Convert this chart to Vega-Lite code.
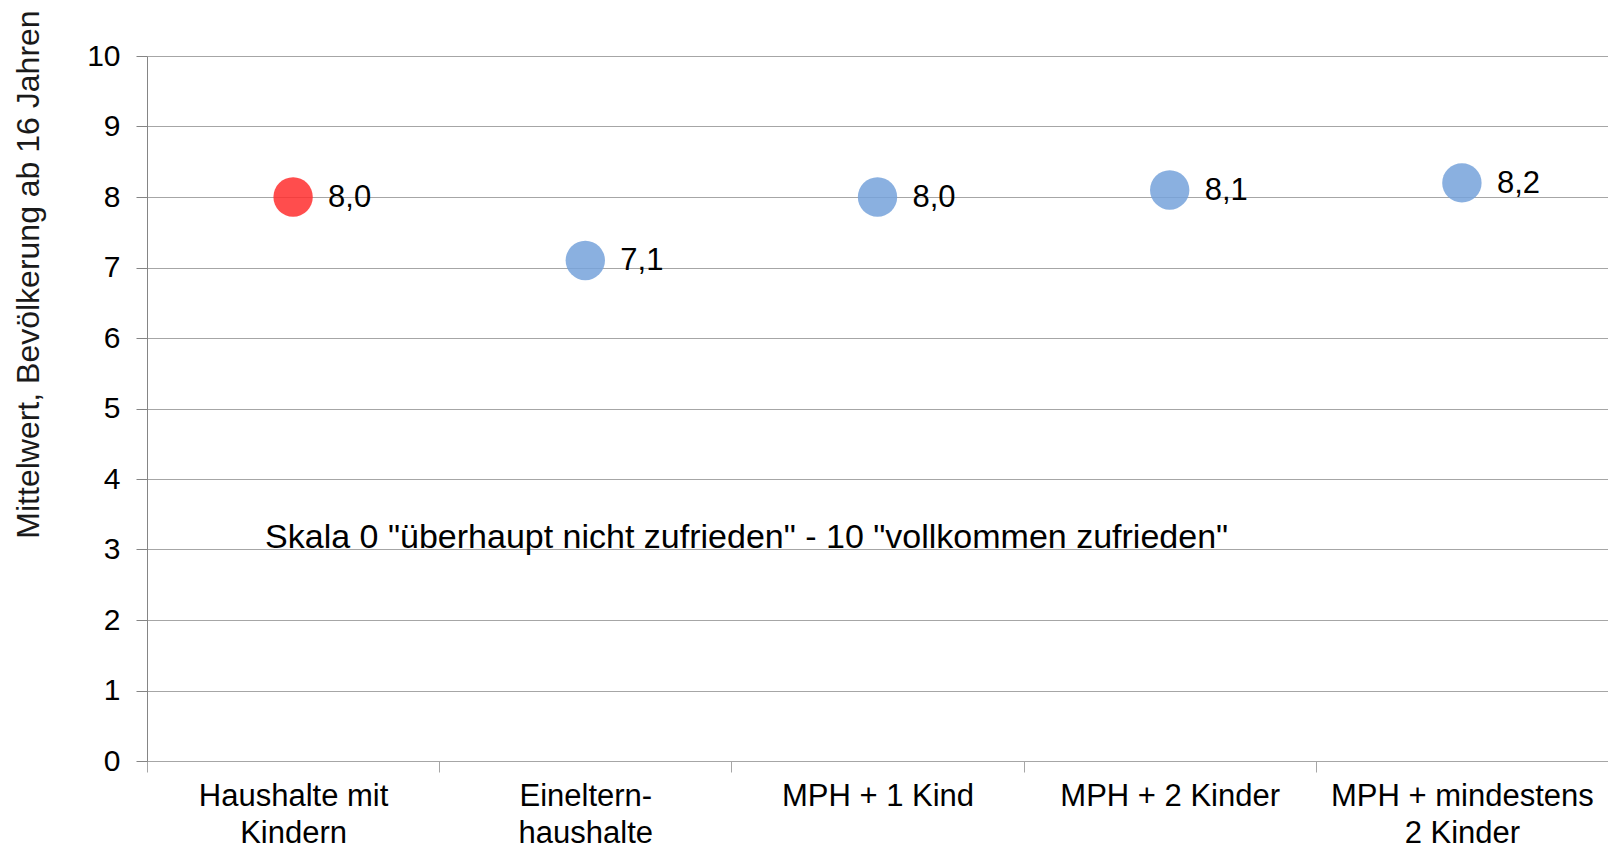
{
  "$schema": "https://vega.github.io/schema/vega-lite/v6.json",
  "width": 1461,
  "height": 705,
  "autosize": "none",
  "padding": {"left": 147, "top": 56, "right": 0, "bottom": 88},
  "background": "white",
  "config": {
    "view": {"stroke": null},
    "font": "Liberation Sans",
    "locale": {"number": {"decimal": ",", "thousands": ".", "grouping": [3], "currency": ["", " €"]}}
  },
  "data": {
    "values": [
      {"group": "Haushalte mit Kindern", "value": 8.0, "type": "gesamt"},
      {"group": "Einelternhaushalte", "value": 7.1, "type": "teil"},
      {"group": "MPH + 1 Kind", "value": 8.0, "type": "teil"},
      {"group": "MPH + 2 Kinder", "value": 8.1, "type": "teil"},
      {"group": "MPH + mindestens 2 Kinder", "value": 8.2, "type": "teil"}
    ]
  },
  "encoding": {
    "x": {
      "field": "group",
      "type": "nominal",
      "sort": null,
      "scale": {"type": "band", "paddingInner": 0, "paddingOuter": 0},
      "axis": {
        "title": null,
        "labelAngle": 0,
        "labelFontSize": 31,
        "labelColor": "#000000",
        "labelPadding": 24,
        "labelLineHeight": 37,
        "labelLimit": 400,
        "labelBaseline": "middle",
        "domainColor": "#A6A6A6",
        "tickColor": "#A6A6A6",
        "tickSize": 11,
        "tickBand": "extent",
        "grid": false,
        "labelExpr": "datum.label == 'Haushalte mit Kindern' ? ['Haushalte mit', 'Kindern'] : datum.label == 'Einelternhaushalte' ? ['Eineltern-', 'haushalte'] : datum.label == 'MPH + mindestens 2 Kinder' ? ['MPH + mindestens', '2 Kinder'] : datum.label"
      }
    },
    "y": {
      "field": "value",
      "type": "quantitative",
      "scale": {"domain": [0, 10], "nice": false},
      "axis": {
        "values": [0, 1, 2, 3, 4, 5, 6, 7, 8, 9, 10],
        "format": "d",
        "grid": true,
        "gridColor": "#A6A6A6",
        "gridWidth": 1,
        "domainColor": "#858585",
        "tickColor": "#858585",
        "tickSize": 11,
        "labelFontSize": 30,
        "labelColor": "#000000",
        "labelPadding": 16,
        "title": "Mittelwert,  Bevölkerung ab 16 Jahren",
        "titleFontSize": 32,
        "titleFontWeight": "normal",
        "titleColor": "#1a1a1a",
        "titleX": -119,
        "titleY": 218,
        "titleAlign": "center",
        "titleBaseline": "middle"
      }
    }
  },
  "layer": [
    {
      "mark": {"type": "circle", "size": 1550, "opacity": 0.85},
      "encoding": {
        "color": {
          "field": "type",
          "type": "nominal",
          "scale": {"domain": ["gesamt", "teil"], "range": ["#FF2E2E", "#76A2DB"]},
          "legend": null
        }
      }
    },
    {
      "mark": {"type": "text", "align": "left", "baseline": "middle", "dx": 35, "dy": 1, "fontSize": 31, "color": "#000000"},
      "encoding": {
        "text": {"field": "value", "type": "quantitative", "format": ".1f"}
      }
    },
    {
      "data": {"values": [{"group": "Haushalte mit Kindern", "value": 3, "note": "Skala 0 \"überhaupt nicht zufrieden\" - 10 \"vollkommen zufrieden\""}]},
      "mark": {"type": "text", "align": "left", "baseline": "alphabetic", "dx": -28, "dy": -2, "fontSize": 34, "color": "#000000"},
      "encoding": {
        "text": {"field": "note", "type": "nominal"}
      }
    }
  ]
}
